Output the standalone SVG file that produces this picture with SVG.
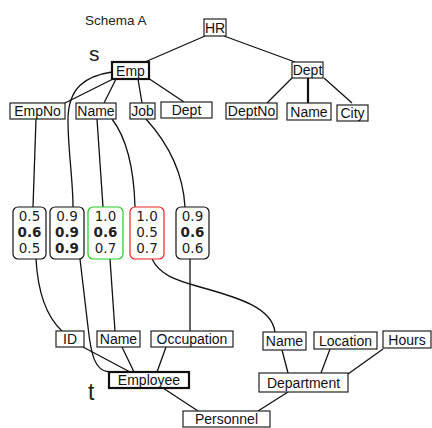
<svg xmlns="http://www.w3.org/2000/svg" width="432" height="428" viewBox="0 0 432 428">
<style>
.b{fill:#fff;stroke:#222;stroke-width:1.2}
.bt{fill:#fff;stroke:#111;stroke-width:2.2}
.l{font-family:"Liberation Sans",Arial,sans-serif;font-size:14px;fill:#111;text-anchor:middle}
.n{font-family:"DejaVu Sans",Verdana,sans-serif;font-size:13.5px;fill:#222;text-anchor:middle}
.nb{font-weight:bold}
.c{fill:#fff;stroke:#111;stroke-width:1.2}
.g{stroke:#22cc22}
.r{stroke:#ee2222}
.e{fill:none;stroke:#111;stroke-width:1.3}
</style>
<text x="85" y="25" font-family="Liberation Sans, Arial, sans-serif" font-size="13.5" fill="#222">Schema A</text>
<text x="89" y="61" font-family="Liberation Sans, Arial, sans-serif" font-size="21" fill="#222">s</text>
<text x="88" y="400" font-family="Liberation Sans, Arial, sans-serif" font-size="23" fill="#222">t</text>
<g id="connectors" class="e">
<line x1="205" y1="36" x2="145" y2="62"/>
<line x1="224" y1="36" x2="295" y2="62"/>
<line x1="113" y1="79" x2="65" y2="103"/>
<line x1="116" y1="79" x2="104" y2="103"/>
<line x1="138" y1="79" x2="142" y2="103"/>
<line x1="148" y1="78" x2="184" y2="102"/>
<line x1="292" y1="78" x2="267" y2="103"/>
<line x1="308" y1="78" x2="308" y2="103" stroke-width="2.2"/>
<line x1="324" y1="78" x2="352" y2="103"/>
<path d="M112,72 C85,76 68,88 68,120 C68,150 73,180 73,207"/>
<line x1="36" y1="119" x2="33" y2="207"/>
<line x1="97" y1="119" x2="103" y2="207"/>
<path d="M112,119 C128,140 134,170 135,207"/>
<path d="M146,119 C165,140 183,170 185,207"/>
<path d="M36,259 C38,295 48,318 62,331"/>
<path d="M80,259 L88,327 C91,355 95,371 109,372"/>
<line x1="110" y1="259" x2="115" y2="331"/>
<path d="M152,259 C160,275 175,280 200,287 C240,298 272,308 275,332"/>
<line x1="190" y1="259" x2="190" y2="331"/>
<line x1="83" y1="347" x2="130" y2="372"/>
<line x1="122" y1="347" x2="134" y2="372"/>
<line x1="166" y1="347" x2="157" y2="372"/>
<line x1="282" y1="350" x2="288" y2="373"/>
<line x1="330" y1="349" x2="321" y2="373"/>
<line x1="383" y1="349" x2="348" y2="374"/>
<line x1="163" y1="388" x2="198" y2="411"/>
<line x1="288" y1="392" x2="258" y2="411"/>
</g>
<g id="HR"><rect class="b" x="204" y="19" width="22" height="17"/><text class="l" x="215" y="32.5">HR</text></g>
<g id="Emp"><rect class="bt" x="112" y="62" width="37" height="17"/><text class="l" x="130.5" y="75.5">Emp</text></g>
<g id="DeptA"><rect class="b" x="292" y="62" width="31" height="16"/><text class="l" x="307.5" y="75">Dept</text></g>
<g id="EmpNo"><rect class="b" x="10" y="103" width="55" height="16"/><text class="l" x="37.5" y="116">EmpNo</text></g>
<g id="NameA"><rect class="b" x="76" y="103" width="40" height="16"/><text class="l" x="96" y="116">Name</text></g>
<g id="Job"><rect class="b" x="130" y="103" width="25" height="16"/><text class="l" x="142.5" y="116">Job</text></g>
<g id="DeptEmp"><rect class="b" x="161" y="102" width="51" height="16"/><text class="l" x="186.5" y="115">Dept</text></g>
<g id="DeptNo"><rect class="b" x="226" y="103" width="51" height="16"/><text class="l" x="251.5" y="116">DeptNo</text></g>
<g id="NameD"><rect class="b" x="287" y="103" width="44" height="17"/><text class="l" x="309" y="116.5">Name</text></g>
<g id="City"><rect class="b" x="337" y="105" width="31" height="16"/><text class="l" x="352.5" y="118">City</text></g>
<g id="m1"><rect class="c" x="13" y="207" width="33" height="52" rx="5"/><text class="n" x="29.5" y="221">0.5</text><text class="n nb" x="29.5" y="237">0.6</text><text class="n" x="29.5" y="253">0.5</text></g>
<g id="m2"><rect class="c" x="50" y="207" width="34" height="52" rx="5"/><text class="n" x="67" y="221">0.9</text><text class="n nb" x="67" y="237">0.9</text><text class="n nb" x="67" y="253">0.9</text></g>
<g id="m3"><rect class="c g" x="88" y="207" width="35" height="52" rx="5"/><text class="n" x="105.5" y="221">1.0</text><text class="n nb" x="105.5" y="237">0.6</text><text class="n" x="105.5" y="253">0.7</text></g>
<g id="m4"><rect class="c r" x="130" y="207" width="34" height="52" rx="5"/><text class="n" x="147" y="221">1.0</text><text class="n" x="147" y="237">0.5</text><text class="n" x="147" y="253">0.7</text></g>
<g id="m5"><rect class="c" x="176" y="207" width="33" height="52" rx="5"/><text class="n" x="192.5" y="221">0.9</text><text class="n nb" x="192.5" y="237">0.6</text><text class="n" x="192.5" y="253">0.6</text></g>
<g id="ID"><rect class="b" x="56" y="331" width="28" height="16"/><text class="l" x="70" y="344">ID</text></g>
<g id="NameE"><rect class="b" x="97" y="331" width="43" height="16"/><text class="l" x="118.5" y="344">Name</text></g>
<g id="Occupation"><rect class="b" x="151" y="331" width="82" height="16"/><text class="l" x="192" y="344">Occupation</text></g>
<g id="NameP"><rect class="b" x="263" y="332" width="43" height="18"/><text class="l" x="284.5" y="346">Name</text></g>
<g id="Location"><rect class="b" x="314" y="332" width="63" height="17"/><text class="l" x="345.5" y="345.5">Location</text></g>
<g id="Hours"><rect class="b" x="383" y="331" width="48" height="17"/><text class="l" x="407" y="344.5">Hours</text></g>
<g id="Employee"><rect class="bt" x="109" y="372" width="80" height="16"/><text class="l" x="149" y="385">Employee</text></g>
<g id="Department"><rect class="b" x="259" y="373" width="89" height="19"/><text class="l" x="303.5" y="387.5">Department</text></g>
<g id="Personnel"><rect class="b" x="183" y="411" width="87" height="16"/><text class="l" x="226.5" y="424">Personnel</text></g>
</svg>
